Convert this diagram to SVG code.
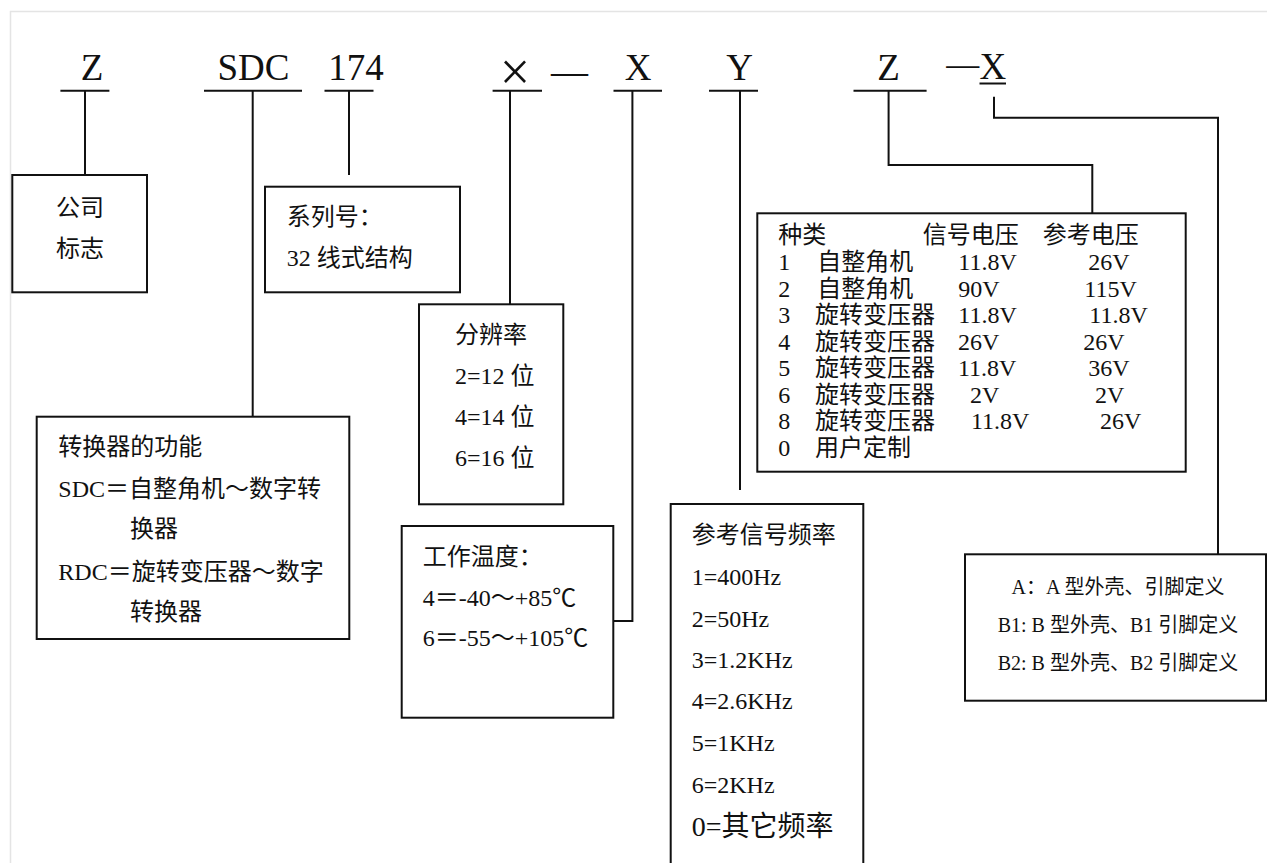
<svg xmlns="http://www.w3.org/2000/svg" width="1267" height="863" viewBox="0 0 1267 863">
<style>
.t{font-family:"Liberation Serif","Noto Sans CJK SC",serif;font-size:24px;fill:#111}
.h{font-family:"Liberation Serif","Times New Roman",serif;font-size:37px;fill:#111;text-anchor:middle}
.s{font-size:20px}
.box{fill:#fff;stroke:#111;stroke-width:2}
.ln{fill:none;stroke:#111;stroke-width:2}
</style>
<rect width="1267" height="863" fill="#fff"/>
<path d="M10.5,863 V11.5 H1267" fill="none" stroke="#e4e4e4" stroke-width="1.5"/>

<g id="header">
<text class="h" x="92" y="80">Z</text>
<text class="h" x="253.5" y="80">SDC</text>
<text class="h" x="356" y="80">174</text>
<text class="h" x="515" y="90" style="font-size:54px;font-weight:100">×</text>
<text class="h" x="569.5" y="84">—</text>
<text class="h" x="638" y="80">X</text>
<text class="h" x="739.5" y="80">Y</text>
<text class="h" x="888.6" y="80">Z</text>
<text class="h" x="962.7" y="75" style="font-size:33px">—</text>
<text class="h" x="992.8" y="79">X</text>
<line class="ln" x1="979.5" y1="83.5" x2="1006" y2="83.5"/>
<g class="ln">
<line x1="60.4" y1="90.7" x2="109.4" y2="90.7"/>
<line x1="204" y1="90.7" x2="302" y2="90.7"/>
<line x1="324.5" y1="90.7" x2="373.5" y2="90.7"/>
<line x1="492.6" y1="90.7" x2="542" y2="90.7"/>
<line x1="613.5" y1="90.7" x2="662" y2="90.7"/>
<line x1="709" y1="90.7" x2="758" y2="90.7"/>
<line x1="853.5" y1="90.7" x2="926.6" y2="90.7"/>
</g>
</g>

<g id="connectors" class="ln">
<path d="M85,91 V175"/>
<path d="M252.7,91 V416.7"/>
<path d="M349,91 V175"/>
<path d="M510,91 V304"/>
<path d="M632.4,91 V621 H613"/>
<path d="M740,91 V490"/>
<path d="M888.6,91 V165 H1092.3 V213.3"/>
<path d="M994,96.7 V117.7 H1218 V554.3"/>
</g>

<g id="company">
<rect class="box" x="12.3" y="175" width="134.7" height="117.3"/>
<text class="t" x="56" y="216">公司</text>
<text class="t" x="56" y="257">标志</text>
</g>

<g id="series">
<rect class="box" x="265" y="186.7" width="195" height="105.6"/>
<text class="t" x="286.7" y="225">系列号：</text>
<text class="t" x="286.7" y="266">32 线式结构</text>
</g>

<g id="resolution">
<rect class="box" x="419" y="304.3" width="144.3" height="200"/>
<text class="t" x="455" y="343">分辨率</text>
<text class="t" x="455" y="384">2=12 位</text>
<text class="t" x="455" y="425">4=14 位</text>
<text class="t" x="455" y="466">6=16 位</text>
</g>

<g id="function">
<rect class="box" x="36.7" y="416.7" width="312.6" height="222.3"/>
<text class="t" x="58.3" y="455">转换器的功能</text>
<text class="t" x="58.3" y="497">SDC＝自整角机～数字转</text>
<text class="t" x="130" y="537">换器</text>
<text class="t" x="58.3" y="580">RDC＝旋转变压器～数字</text>
<text class="t" x="130" y="620">转换器</text>
</g>

<g id="temperature">
<rect class="box" x="401.7" y="526" width="211.6" height="191.7"/>
<text class="t" x="422.7" y="565">工作温度：</text>
<text class="t" x="422.7" y="606">4＝-40～+85℃</text>
<text class="t" x="422.7" y="646">6＝-55～+105℃</text>
</g>

<g id="frequency">
<rect class="box" x="670.7" y="504" width="192.6" height="380"/>
<text class="t" x="691.7" y="543">参考信号频率</text>
<text class="t" x="691.7" y="585">1=400Hz</text>
<text class="t" x="691.7" y="627">2=50Hz</text>
<text class="t" x="691.7" y="668">3=1.2KHz</text>
<text class="t" x="691.7" y="709">4=2.6KHz</text>
<text class="t" x="691.7" y="751">5=1KHz</text>
<text class="t" x="691.7" y="793">6=2KHz</text>
<text class="t" x="691.7" y="836" style="font-size:28px">0=其它频率</text>
</g>

<g id="type-table">
<rect class="box" x="757.3" y="213.3" width="428.4" height="258.4"/>
<text class="t" x="778.3" y="243">种类</text>
<text class="t" x="922.7" y="243">信号电压</text>
<text class="t" x="1042.7" y="243">参考电压</text>
<text class="t" x="778.3" y="270">1</text><text class="t" x="817.3" y="270">自整角机</text><text class="t" x="958.3" y="270">11.8V</text><text class="t" x="1088.3" y="270">26V</text>
<text class="t" x="778.3" y="296.5">2</text><text class="t" x="817.3" y="296.5">自整角机</text><text class="t" x="958.3" y="296.5">90V</text><text class="t" x="1084.3" y="296.5">115V</text>
<text class="t" x="778.3" y="323">3</text><text class="t" x="815" y="323">旋转变压器</text><text class="t" x="958.3" y="323">11.8V</text><text class="t" x="1089.3" y="323">11.8V</text>
<text class="t" x="778.3" y="349.5">4</text><text class="t" x="815" y="349.5">旋转变压器</text><text class="t" x="958" y="349.5">26V</text><text class="t" x="1083.3" y="349.5">26V</text>
<text class="t" x="778.3" y="376">5</text><text class="t" x="815" y="376">旋转变压器</text><text class="t" x="958" y="376">11.8V</text><text class="t" x="1088.3" y="376">36V</text>
<text class="t" x="778.3" y="402.5">6</text><text class="t" x="815" y="402.5">旋转变压器</text><text class="t" x="970" y="402.5">2V</text><text class="t" x="1095" y="402.5">2V</text>
<text class="t" x="778.3" y="429">8</text><text class="t" x="815" y="429">旋转变压器</text><text class="t" x="971" y="429">11.8V</text><text class="t" x="1100" y="429">26V</text>
<text class="t" x="778.3" y="455.5">0</text><text class="t" x="815" y="455.5">用户定制</text>
</g>

<g id="package">
<rect class="box" x="965" y="554.3" width="301" height="146.4"/>
<text class="t s" x="1118" y="594" text-anchor="middle">A：A 型外壳、引脚定义</text>
<text class="t s" x="1118" y="632" text-anchor="middle">B1: B 型外壳、B1 引脚定义</text>
<text class="t s" x="1118" y="670" text-anchor="middle">B2: B 型外壳、B2 引脚定义</text>
</g>
</svg>
